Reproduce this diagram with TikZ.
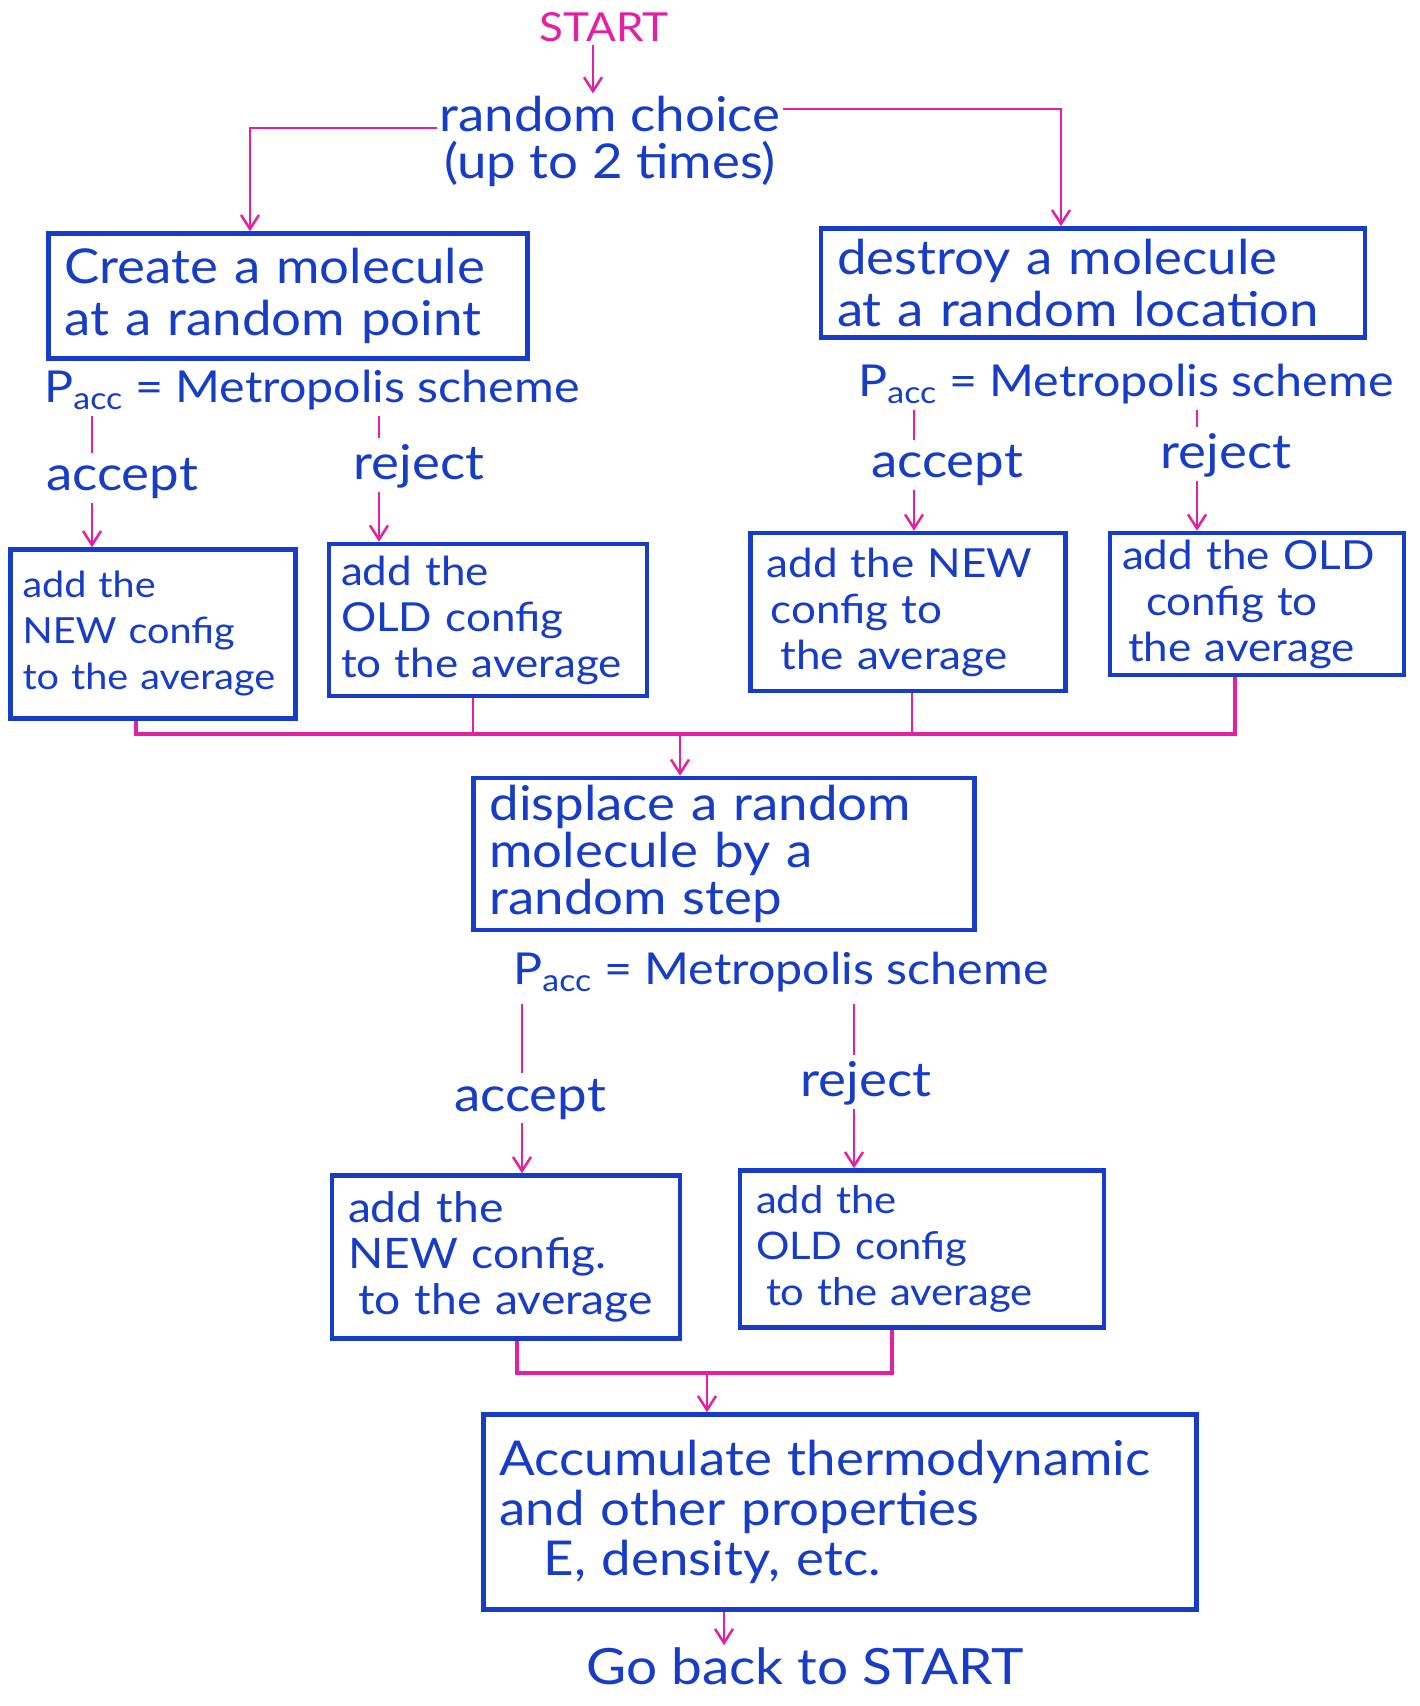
\documentclass[tikz,border=0pt]{standalone}
\usepackage{fontspec}
\setmainfont{Lato}[FakeStretch=1.1]
\usetikzlibrary{arrows.meta}
\definecolor{bl}{RGB}{22,60,200}
\definecolor{pk}{RGB}{228,32,162}
\begin{document}
\begin{tikzpicture}[x=1pt,y=-1pt,
  fbox/.style={draw=bl, line width=4.5pt, text=bl, inner xsep=16pt, inner ysep=6pt, align=left, anchor=center},
  big/.style={font=\fontsize{48}{52}\selectfont},
  mid/.style={font=\fontsize{40}{46}\selectfont},
  lbl/.style={font=\fontsize{48}{52}\selectfont},
  pac/.style={font=\fontsize{44}{50}\selectfont},
  txt/.style={text=bl, inner sep=2pt},
  pkl/.style={draw=pk, line width=2.5pt},
  pka/.style={draw=pk, line width=2.5pt, -{Straight Barb[length=14pt,width=18pt,line width=2.5pt]}},
  pkm/.style={draw=pk, line width=4.5pt}
]
\useasboundingbox[fill=white] (0,0) rectangle (1420,1706);

% top
\node[text=pk, font=\fontsize{40}{46}\selectfont] (start) at (604,27) {START};
\node[txt, align=center, font=\fontsize{48}{47}\selectfont] (rc) at (610,141) {random choice\\(up to 2 times)};

% first level boxes
\node[fbox, big, text width=447pt, minimum height=125pt] (L1) at (288,296) {Create a molecule\\at a random point};
\node[fbox, big, text width=512pt, minimum height=109pt] (R1) at (1093,283) {destroy a molecule\\at a random location};

\node[txt, pac] (pl) at (312,390) {P\textsubscript{acc} = Metropolis scheme};
\node[txt, pac] (pr) at (1126,384) {P\textsubscript{acc} = Metropolis scheme};

\node[txt, lbl] (acc1) at (122,479) {accept};
\node[txt, lbl] (rej1) at (419,466) {reject};
\node[txt, lbl] (acc2) at (947,466) {accept};
\node[txt, lbl] (rej2) at (1226,455) {reject};

\node[fbox, font=\fontsize{36}{46}\selectfont, inner xsep=12pt, text width=261pt, minimum height=169pt] (A) at (153,634) {add the\\NEW config\\to the average};
\node[fbox, mid, inner xsep=12pt, text width=294pt, minimum height=152pt] (B) at (488,620) {add the\\OLD config\\to the average};
\node[fbox, mid, text width=283pt, minimum height=158pt] (C) at (908,612) {add the NEW\\\hspace*{4pt}config to\\\hspace*{14pt}the average};
\node[fbox, mid, inner xsep=12pt, text width=270pt, minimum height=142pt] (D) at (1257,604) {add the OLD\\\hspace*{24pt}config to\\\hspace*{6pt}the average};

% middle
\node[fbox, font=\fontsize{48}{47}\selectfont, text width=469pt, minimum height=152pt] (E) at (724,854) {displace a random\\molecule by a\\random step};
\node[txt, pac] (pm) at (781,972) {P\textsubscript{acc} = Metropolis scheme};
\node[txt, lbl] (acc3) at (530,1099) {accept};
\node[txt, lbl] (rej3) at (866,1083) {reject};

\node[fbox, font=\fontsize{42}{46}\selectfont, text width=316pt, minimum height=163pt] (F) at (506,1257) {add the\\NEW config.\\\hspace*{10pt}to the average};
\node[fbox, font=\fontsize{38}{46}\selectfont, text width=332pt, minimum height=157pt] (G) at (922,1249) {add the\\OLD config\\\hspace*{10pt}to the average};

\node[fbox, font=\fontsize{48}{50}\selectfont, text width=681pt, minimum height=195pt] (H) at (840,1512) {Accumulate thermodynamic\\and other properties\\\hspace*{44pt}E, density, etc.};
\node[txt, font=\fontsize{50}{56}\selectfont] (go) at (805,1666) {Go back to START};

% x positions of connectors
\coordinate (xs) at (593,0);
\coordinate (xl) at (250,0);
\coordinate (xr) at (1061,0);
\coordinate (xa1) at (92,0);
\coordinate (xr1) at (379,0);
\coordinate (xa2) at (914,0);
\coordinate (xr2) at (1197,0);
\coordinate (xA) at (136,0);
\coordinate (xB) at (473,0);
\coordinate (xC) at (912,0);
\coordinate (xD) at (1235,0);
\coordinate (m1) at (680,734);
\coordinate (xa3) at (522,0);
\coordinate (xr3) at (854,0);
\coordinate (xF) at (517,0);
\coordinate (xG) at (892,0);
\coordinate (m2) at (707,1373);
\coordinate (xh) at (724,0);

% connectors
\draw[pka] (start.south -| xs) -- (rc.north -| xs);
\draw[pka] ([yshift=13pt]rc.west) -| (xl |- L1.north);
\draw[pka] ([yshift=32pt]rc.east) -| (xr |- R1.north);

\draw[pkl, shorten <=4pt, shorten >=4pt] (pl.south -| xa1) -- (acc1.north -| xa1);
\draw[pka, shorten <=2pt] (acc1.south -| xa1) -- (A.north -| xa1);
\draw[pkl, shorten <=4pt, shorten >=4pt] (pl.south -| xr1) -- (rej1.north -| xr1);
\draw[pka, shorten <=2pt] (rej1.south -| xr1) -- (B.north -| xr1);
\draw[pkl, shorten <=4pt, shorten >=4pt] (pr.south -| xa2) -- (acc2.north -| xa2);
\draw[pka, shorten <=2pt] (acc2.south -| xa2) -- (C.north -| xa2);
\draw[pkl, shorten <=4pt, shorten >=4pt] (pr.south -| xr2) -- (rej2.north -| xr2);
\draw[pka, shorten <=2pt] (rej2.south -| xr2) -- (D.north -| xr2);

\draw[pkm] (A.south -| xA) -- (xA |- m1) -- (xD |- m1) -- (D.south -| xD);
\draw[pkl] (B.south -| xB) -- (xB |- m1);
\draw[pkl] (C.south -| xC) -- (xC |- m1);
\draw[pka] (m1) -- (E.north -| m1);

\draw[pkl, shorten <=10pt, shorten >=4pt] (pm.south -| xa3) -- (acc3.north -| xa3);
\draw[pka, shorten <=2pt] (acc3.south -| xa3) -- (F.north -| xa3);
\draw[pkl, shorten <=10pt, shorten >=4pt] (pm.south -| xr3) -- (rej3.north -| xr3);
\draw[pka, shorten <=2pt] (rej3.south -| xr3) -- (G.north -| xr3);

\draw[pkm] (F.south -| xF) -- (xF |- m2) -- (xG |- m2) -- (G.south -| xG);
\draw[pka] (m2) -- (H.north -| m2);

\draw[pka] (H.south -| xh) -- (go.north -| xh);
\end{tikzpicture}
\end{document}
